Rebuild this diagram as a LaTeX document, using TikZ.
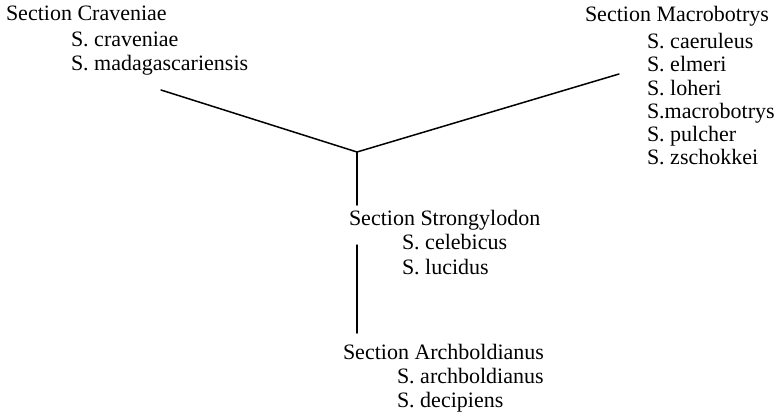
\documentclass[tikz,border=0pt]{standalone}
\usepackage{fontspec}
\setmainfont{Liberation Serif}
\begin{document}
\begin{tikzpicture}[x=1pt,y=-1pt,
  lbl/.style={inner sep=0pt,outer sep=0pt,anchor=base west,font=\fontsize{22}{24}\selectfont},
  branch/.style={line width=1.5pt,line cap=round}]
\useasboundingbox (0,0) rectangle (783,413);
% Section Craveniae
\node[lbl] (crav)  at (6,20)  {Section Craveniae};
\node[lbl] (crav1) at (71,46) {S. craveniae};
\node[lbl] (crav2) at (71,70) {S. madagascariensis};
% Section Macrobotrys
\node[lbl] (macr)  at (585,21)  {Section Macrobotrys};
\node[lbl] (macr1) at (647,48)  {S. caeruleus};
\node[lbl] (macr2) at (647,71.5)  {S. elmeri};
\node[lbl] (macr3) at (647,95)  {S. loheri};
\node[lbl] (macr4) at (647,118) {S.macrobotrys};
\node[lbl] (macr5) at (647,141) {S. pulcher};
\node[lbl] (macr6) at (647,164) {S. zschokkei};
% Section Strongylodon
\node[lbl] (stro)  at (349,225) {Section Strongylodon};
\node[lbl] (stro1) at (402,249.5) {S. celebicus};
\node[lbl] (stro2) at (402,274) {S. lucidus};
% Section Archboldianus
\node[lbl] (arch)  at (343,359) {Section Archboldianus};
\node[lbl] (arch1) at (397,383.5) {S. archboldianus};
\node[lbl] (arch2) at (397,407.5) {S. decipiens};
% tree
\coordinate (j) at (357,152);
\coordinate (lend) at (161,90);
\coordinate (rend) at (619,74);
\coordinate (v1) at (357,205);
\coordinate (v2a) at (357,245);
\coordinate (v2b) at (357,333);
\draw[branch] (lend) -- (j) -- (rend);
\draw[branch] (j) -- (v1);
\draw[branch] (v2a) -- (v2b);
\end{tikzpicture}
\end{document}
